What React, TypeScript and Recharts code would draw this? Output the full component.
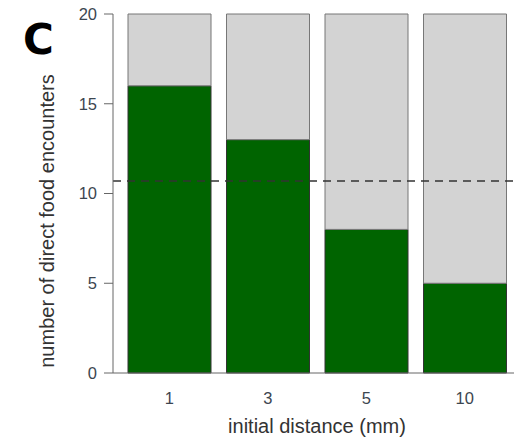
import React from 'react';
import { BarChart, Bar, XAxis, YAxis, ReferenceLine } from 'recharts';

// initial distance categories (mm)
const distances = ['1', '3', '5', '10'];
// direct food encounters out of 20 trials
const encounters = [16, 13, 8, 5];
const trials = [20, 20, 20, 20];
const chanceLevel = 10.7;
const yTicks = [0, 5, 10, 15, 20];

const data = distances.map((d, i) => ({
  distance: d,
  hit: encounters[i],
  miss: trials[i] - encounters[i],
}));

const font = 'Arial, "Liberation Sans", sans-serif';

export default function App() {
  return (
    <div style={{ position: 'absolute', left: 0, top: 0, width: 514, height: 439, background: '#fff' }}>
      <span
        style={{
          position: 'absolute',
          left: 23,
          top: 16,
          fontFamily: '"DejaVu Sans", sans-serif',
          fontWeight: 900,
          fontSize: 42,
          lineHeight: '48px',
          color: '#000',
        }}
      >
        C
      </span>
      <BarChart
        width={514}
        height={439}
        data={data}
        margin={{ top: 14, right: 0, left: 0, bottom: 0 }}
        barCategoryGap={8}
      >
        <XAxis
          dataKey="distance"
          height={66}
          padding={{ left: 7, right: 0 }}
          axisLine={{ stroke: '#666' }}
          tickLine={false}
          tickSize={0}
          tickMargin={19}
          tick={{ fontSize: 16.5, fill: '#3c4650', fontFamily: font }}
          label={({ viewBox }: any) => (
            <text
              x={viewBox.x + 7 + (viewBox.width - 7) / 2}
              y={viewBox.y + 60}
              textAnchor="middle"
              fontSize={20}
              fontFamily={font}
              fill="#333"
            >
              initial distance (mm)
            </text>
          )}
        />
        <YAxis
          type="number"
          domain={[0, 20]}
          ticks={yTicks}
          width={113}
          axisLine={{ stroke: '#666' }}
          tickLine={{ stroke: '#666' }}
          tickSize={9}
          tickMargin={7}
          tick={{ fontSize: 16.5, fill: '#3c4650', fontFamily: font }}
          label={({ viewBox }: any) => (
            <text
              x={47}
              y={221}
              transform="rotate(-90, 47, 221)"
              textAnchor="middle"
              dominantBaseline="central"
              fontSize={20}
              fontFamily={font}
              fill="#333"
            >
              number of direct food encounters
            </text>
          )}
        />
        <Bar dataKey="hit" stackId="a" fill="#006400" stroke="#333" strokeWidth={1} isAnimationActive={false} />
        <Bar dataKey="miss" stackId="a" fill="#d3d3d3" stroke="#777" strokeWidth={1} isAnimationActive={false} />
        <ReferenceLine y={chanceLevel} stroke="#333" strokeWidth={1.5} strokeDasharray="8 6" />
      </BarChart>
    </div>
  );
}
